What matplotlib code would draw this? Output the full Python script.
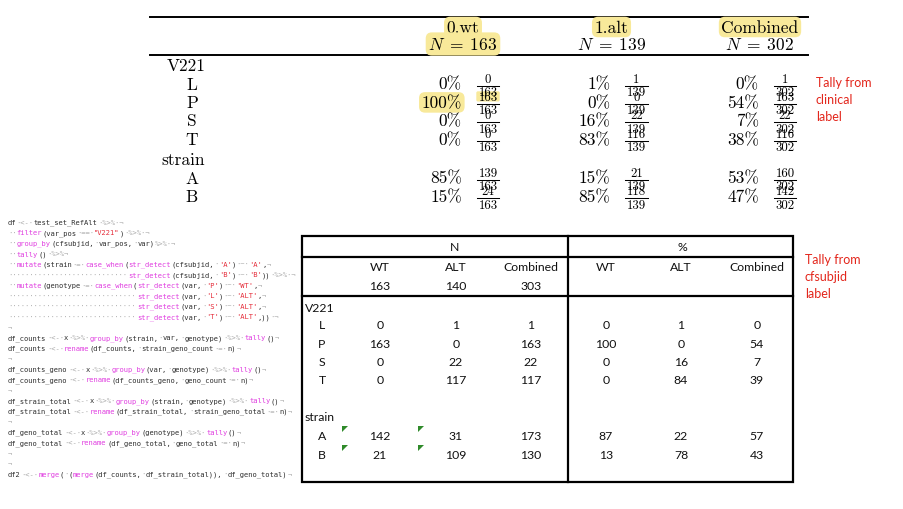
"""Side-by-side tallies: clinical label (LaTeX table) vs cfsubjid label (Excel table)."""
import re

import matplotlib.pyplot as plt
from matplotlib.patches import FancyBboxPatch, Polygon, Rectangle

plt.rcParams["mathtext.fontset"] = "cm"

# --- top table: tally from clinical label ---
groups = ["0.wt", "1.alt", "Combined"]
group_n = [163, 139, 302]
v221_vars = ["L", "P", "S", "T"]
v221_counts = [[0, 1, 1], [163, 0, 163], [0, 22, 22], [0, 116, 116]]
v221_pct = [[0, 1, 0], [100, 0, 54], [0, 16, 7], [0, 83, 38]]
strains = ["A", "B"]
strain_counts = [[139, 21, 160], [24, 118, 142]]
strain_pct = [[85, 15, 53], [15, 85, 47]]
highlight_headers = ["0.wt", "1.alt", "Combined"]
highlight_cell = ("P", 0)

# --- bottom table: tally from cfsubjid label ---
geno_cols = ["WT", "ALT", "Combined"]
geno_n = [163, 140, 303]
sub_v221_counts = [[0, 1, 1], [163, 0, 163], [0, 22, 22], [0, 117, 117]]
sub_v221_pct = [[0, 1, 0], [100, 0, 54], [0, 16, 7], [0, 84, 39]]
sub_strain_counts = [[142, 31, 173], [21, 109, 130]]
sub_strain_pct = [[87, 22, 57], [13, 78, 43]]
flagged = [(0, 0), (0, 1), (1, 0), (1, 1)]  # excel green corner markers

code_lines = [
    "df <- test_set_RefAlt %>% ",
    "  filter(var_pos == \"V221\") %>% ",
    "  group_by(cfsubjid, var_pos, var)%>% ",
    "  tally() %>%",
    "  mutate(strain = case_when(str_detect(cfsubjid, 'A') ~ 'A',",
    "                            str_detect(cfsubjid, 'B') ~ 'B')) %>% ",
    "  mutate(genotype = case_when(str_detect(var, 'P') ~ 'WT',",
    "                              str_detect(var, 'L') ~ 'ALT',",
    "                              str_detect(var, 'S') ~ 'ALT',",
    "                              str_detect(var, 'T') ~ 'ALT',)) ",
    "",
    "df_counts <- x %>% group_by(strain, var, genotype) %>% tally()",
    "df_counts <- rename(df_counts, strain_geno_count = n)",
    "",
    "df_counts_geno <- x %>% group_by(var, genotype) %>% tally()",
    "df_counts_geno <- rename(df_counts_geno, geno_count = n)",
    "",
    "df_strain_total <- x %>% group_by(strain, genotype) %>% tally()",
    "df_strain_total <- rename(df_strain_total, strain_geno_total = n)",
    "",
    "df_geno_total <- x %>% group_by(genotype) %>% tally()",
    "df_geno_total <- rename(df_geno_total, geno_total = n)",
    "",
    "",
    "df2 <- merge( (merge(df_counts, df_strain_total)), df_geno_total)",
]

YELLOW = "#f8e99a"
RED = "#e3261c"
SANS = ["Lato", "DejaVu Sans"]
SERIF = ["cmr10", "DejaVu Serif"]
CODE_COLORS = {"dark": "#2e2e2e", "light": "#aaaaaa", "func": "#e03ee0", "str": "#e52d3a"}
FS_TOP = 12.5
FS_FRAC = 9.2


def draw_fraction(ax, cx, y, num, den, highlight=False):
    digit_w = 0.5 * FS_FRAC * 100 / 72
    half = (len(str(den)) * digit_w + 3) / 2
    if highlight:
        ax.add_patch(FancyBboxPatch((cx - half + 1, y - 10.5), 2 * half - 2, 7,
                                    boxstyle="round,pad=1.6", fc=YELLOW, ec="none"))
    ax.text(cx, y - 6.5, str(num), ha="center", va="center", fontsize=FS_FRAC, family=SERIF)
    ax.plot([cx - half, cx + half], [y + 0.5, y + 0.5], color="black", lw=0.75)
    ax.text(cx, y + 7, str(den), ha="center", va="center", fontsize=FS_FRAC, family=SERIF)


def draw_latex_table(ax):
    x0, step = 463, 148.5
    ax.plot([150, 808], [18, 18], color="black", lw=1.4)
    ax.plot([150, 808], [56, 56], color="black", lw=1.4)
    hl = dict(boxstyle="round,pad=0.15,rounding_size=0.35", fc=YELLOW, ec="none")
    for j, (g, n) in enumerate(zip(groups, group_n)):
        cx = x0 + j * step
        ax.text(cx, 28, g, ha="center", va="center", fontsize=FS_TOP, family=SERIF,
                bbox=hl if g in highlight_headers else None)
        ax.text(cx, 45, rf"$N \;=\; {n}$", ha="center", va="center", fontsize=FS_TOP,
                bbox=hl if j == 0 else None)

    def row(y, label, counts, pct):
        ax.text(192, y, label, ha="center", va="center", fontsize=FS_TOP, family=SERIF)
        for j in range(3):
            cx = x0 + j * step
            hit = highlight_cell == (label, j)
            ax.text(cx - 1, y, f"{pct[j]}%", ha="right", va="center", fontsize=FS_TOP,
                    family=SERIF, bbox=hl if hit else None)
            draw_fraction(ax, cx + 25, y + 1, counts[j], group_n[j], highlight=hit)

    ax.text(167, 66, "V221", ha="left", va="center", fontsize=FS_TOP, family=SERIF)
    for i, v in enumerate(v221_vars):
        row(85 + i * 18.4, v, v221_counts[i], v221_pct[i])
    ax.text(161, 160, "strain", ha="left", va="center", fontsize=FS_TOP, family=SERIF)
    for i, s in enumerate(strains):
        row(179 + i * 18.8, s, strain_counts[i], strain_pct[i])


def draw_excel_table(ax):
    left, right, top, bottom, mid = 302, 793, 237, 483, 568
    lw = 1.6
    ax.add_patch(Rectangle((left, top), right - left, bottom - top, fill=False, ec="black", lw=lw))
    for y in (258, 297):
        ax.plot([left, right], [y, y], color="black", lw=lw)
    ax.plot([mid, mid], [top, bottom], color="black", lw=lw)

    cnt_x = [380, 456, 531]
    pct_x = [606, 681, 757]
    kw = dict(ha="center", va="center", fontsize=8.8, family=SANS, color="#111111")
    ax.text(455, 248, "N", **kw)
    ax.text(682, 248, "%", **kw)
    for j, c in enumerate(geno_cols):
        ax.text(cnt_x[j], 268, c, **kw)
        ax.text(pct_x[j], 268, c, **kw)
        ax.text(cnt_x[j], 287, str(geno_n[j]), **kw)

    def row(y, label, counts, pct):
        ax.text(322, y, label, **kw)
        for j in range(3):
            ax.text(cnt_x[j], y, str(counts[j]), **kw)
            ax.text(pct_x[j], y, str(pct[j]), **kw)

    ax.text(305, 309, "V221", **{**kw, "ha": "left"})
    for i, v in enumerate(v221_vars):
        row(326 + i * 18.3, v, sub_v221_counts[i], sub_v221_pct[i])
    ax.text(305, 418, "strain", **{**kw, "ha": "left"})
    for i, s in enumerate(strains):
        row(437 + i * 19, s, sub_strain_counts[i], sub_strain_pct[i])
    for i, j in flagged:
        tx, ty = cnt_x[j] - 38, 427 + i * 19
        ax.add_patch(Polygon([(tx, ty), (tx + 6, ty), (tx, ty + 6)], closed=True,
                             fc="#2f8a2a", ec="none"))


def code_segments(line):
    kinds = ["dark"] * len(line)
    for m in re.finditer(r"<-|%>%|==|=|~", line):
        kinds[m.start():m.end()] = ["light"] * (m.end() - m.start())
    for m in re.finditer(r"[A-Za-z_]\w*(?=\()", line):
        kinds[m.start():m.end()] = ["func"] * (m.end() - m.start())
    for m in re.finditer(r"'[^']*'|\"[^\"]*\"", line):
        kinds[m.start():m.end()] = ["str"] * (m.end() - m.start())
    chars = list(line)
    for k, ch in enumerate(chars):
        if ch == " ":
            chars[k], kinds[k] = "\u00b7", "light"
    chars.append("\u00ac")
    kinds.append("light")
    segs, start = [], 0
    for k in range(1, len(chars) + 1):
        if k == len(chars) or kinds[k] != kinds[start]:
            segs.append((start, "".join(chars[start:k]), kinds[start]))
            start = k
    return segs


def draw_code(ax):
    fs = 5.15
    cw = 0.6021 * fs * 100 / 72
    for i, line in enumerate(code_lines):
        y = 223 + i * 10.5
        for col, txt, kind in code_segments(line):
            ax.text(8 + col * cw, y, txt, ha="left", va="center", fontsize=fs,
                    family="DejaVu Sans Mono", color=CODE_COLORS[kind])


def draw_notes(ax):
    for x, y0, lines in [(816, 83, ["Tally from", "clinical", "label"]),
                         (805, 260, ["Tally from", "cfsubjid", "label"])]:
        for i, t in enumerate(lines):
            ax.text(x, y0 + i * 17, t, ha="left", va="center", fontsize=9,
                    family=SANS, color=RED)


def main() -> None:
    fig = plt.figure(figsize=(9.04, 5.10), dpi=100)
    ax = fig.add_axes([0, 0, 1, 1])
    ax.set_xlim(0, 904)
    ax.set_ylim(510, 0)
    ax.axis("off")

    draw_latex_table(ax)
    draw_excel_table(ax)
    draw_code(ax)
    draw_notes(ax)

    fig.savefig("out.png", dpi=100)


if __name__ == "__main__":
    main()
